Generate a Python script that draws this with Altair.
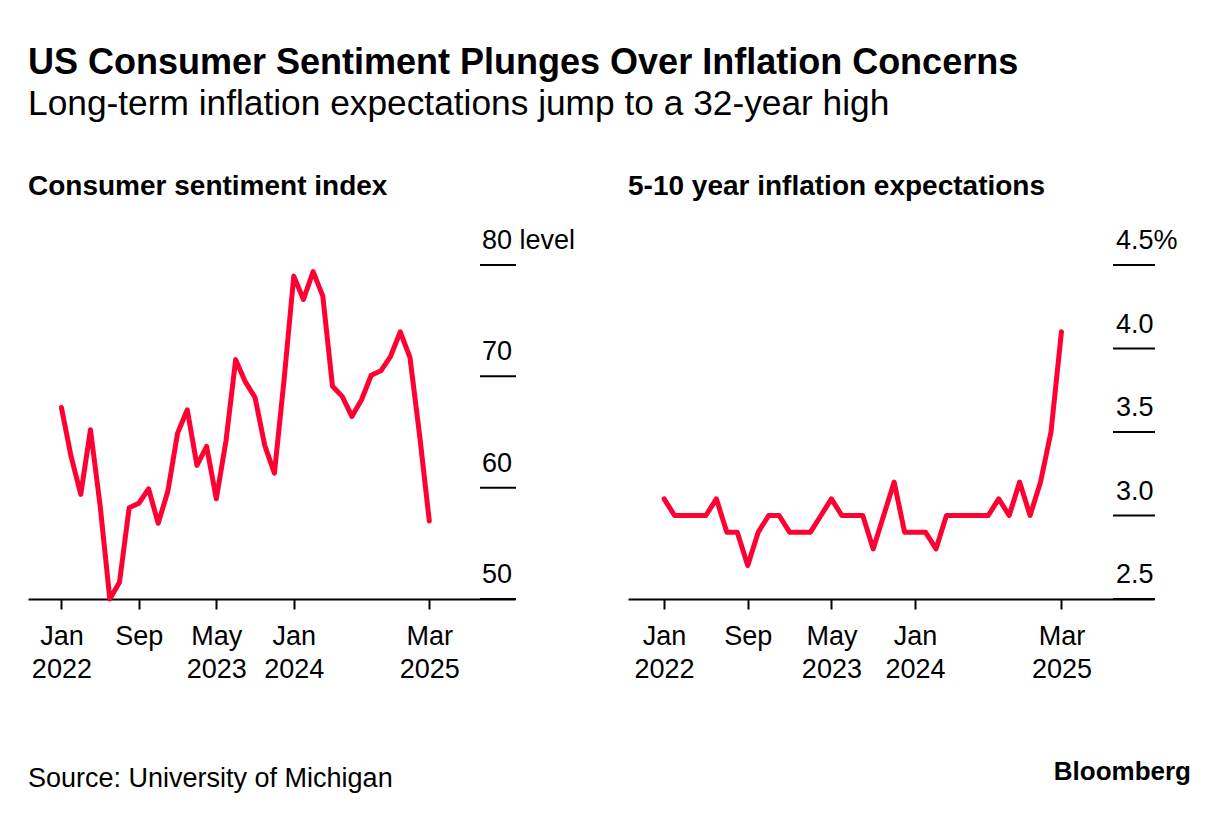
import altair as alt
import pandas as pd

TITLE = "US Consumer Sentiment Plunges Over Inflation Concerns"
SUBTITLE = "Long-term inflation expectations jump to a 32-year high"
LEFT_TITLE = "Consumer sentiment index"
RIGHT_TITLE = "5-10 year inflation expectations"
SOURCE = "Source: University of Michigan"
BRAND = "Bloomberg"

MONTHS = [
    "2022-01", "2022-02", "2022-03", "2022-04", "2022-05", "2022-06",
    "2022-07", "2022-08", "2022-09", "2022-10", "2022-11", "2022-12",
    "2023-01", "2023-02", "2023-03", "2023-04", "2023-05", "2023-06",
    "2023-07", "2023-08", "2023-09", "2023-10", "2023-11", "2023-12",
    "2024-01", "2024-02", "2024-03", "2024-04", "2024-05", "2024-06",
    "2024-07", "2024-08", "2024-09", "2024-10", "2024-11", "2024-12",
    "2025-01", "2025-02", "2025-03",
]
SENTIMENT = [
    67.2, 62.8, 59.4, 65.2, 58.4, 50.0, 51.5, 58.2, 58.6, 59.9, 56.8, 59.7,
    64.9, 67.0, 62.0, 63.7, 59.0, 64.2, 71.5, 69.5, 68.1, 63.8, 61.3, 69.7,
    79.0, 76.9, 79.4, 77.2, 69.1, 68.2, 66.4, 67.9, 70.1, 70.5, 71.8, 74.0,
    71.7, 64.7, 57.0,
]
EXPECT = [
    3.1, 3.0, 3.0, 3.0, 3.0, 3.1, 2.9, 2.9, 2.7, 2.9, 3.0, 3.0,
    2.9, 2.9, 2.9, 3.0, 3.1, 3.0, 3.0, 3.0, 2.8, 3.0, 3.2, 2.9,
    2.9, 2.9, 2.8, 3.0, 3.0, 3.0, 3.0, 3.0, 3.1, 3.0, 3.2, 3.0,
    3.2, 3.5, 4.1,
]

TICK_MONTHS = ["2022-01", "2022-09", "2023-05", "2024-01", "2025-03"]
TICK_LINE1 = ["Jan", "Sep", "May", "Jan", "Mar"]
TICK_LINE2 = ["2022", "", "2023", "2024", "2025"]

LEFT_YTICKS = [50, 60, 70, 80]
LEFT_YLABELS = ["50", "60", "70", "80 level"]
RIGHT_YTICKS = [2.5, 3.0, 3.5, 4.0, 4.5]
RIGHT_YLABELS = ["2.5", "3.0", "3.5", "4.0", "4.5%"]

RED = "#FF0033"
FONT = "Liberation Sans"
XDOM = [-3.45, 46.85]
H = 334

df = pd.DataFrame({
    "m": [MONTHS.index(m) for m in MONTHS],
    "sent": SENTIMENT,
    "exp": EXPECT,
})

tick_idx = [MONTHS.index(m) for m in TICK_MONTHS]
label_expr = "''"
for i, a, b in reversed(list(zip(tick_idx, TICK_LINE1, TICK_LINE2))):
    lines = f"['{a}', '{b}']" if b else f"['{a}']"
    label_expr = f"datum.value == {i} ? {lines} : ({label_expr})"


def text_layer(txt, x, y, size, bold=False, align="left"):
    return alt.Chart(pd.DataFrame({"t": [txt]})).mark_text(
        align=align, baseline="alphabetic", fontSize=size, font=FONT,
        fontWeight="bold" if bold else "normal", color="black",
    ).encode(x=alt.value(x), y=alt.value(y), text="t:N")


def panel(field, ydom, yticks, ylabels, width, tick_len, label_in, title, extra):
    xenc = alt.X(
        "m:Q",
        scale=alt.Scale(domain=XDOM, nice=False, zero=False),
        axis=alt.Axis(
            values=tick_idx, labelExpr=label_expr, title=None, grid=False,
            domainColor="black", domainWidth=2, tickColor="black", tickWidth=2,
            tickSize=10, labelFontSize=27, labelFont=FONT, labelColor="black",
            labelPadding=14, labelLineHeight=33, labelFlush=False,
            labelOverlap=False,
        ),
    )
    yscale = alt.Scale(domain=ydom, nice=False, zero=False)
    line = alt.Chart(df).mark_line(
        color=RED, strokeWidth=5, strokeJoin="round", strokeCap="round"
    ).encode(x=xenc, y=alt.Y(f"{field}:Q", scale=yscale, axis=None))
    tdf = pd.DataFrame({"v": yticks, "lab": ylabels})
    rules = alt.Chart(tdf).mark_rule(color="black", strokeWidth=2).encode(
        y=alt.Y("v:Q", scale=yscale, axis=None),
        x=alt.value(width - tick_len), x2=alt.value(width + 1),
    )
    labels = alt.Chart(tdf).mark_text(
        align="left", baseline="alphabetic", dy=-16, fontSize=27, font=FONT,
        color="black",
    ).encode(
        y=alt.Y("v:Q", scale=yscale, axis=None),
        x=alt.value(width - label_in), text="lab:N",
    )
    ptitle = text_layer(title, 0, -70, 28, bold=True)
    return alt.layer(line, rules, labels, ptitle, *extra).properties(
        width=width, height=H
    )


left = panel(
    "sent", [50, 80], LEFT_YTICKS, LEFT_YLABELS, 487, 35, 33, LEFT_TITLE,
    [
        text_layer(TITLE, 0, -191.5, 36, bold=True),
        text_layer(SUBTITLE, 0, -150, 35.3),
        text_layer(SOURCE, 0, 522, 27),
    ],
)
right = panel(
    "exp", [2.5, 4.5], RIGHT_YTICKS, RIGHT_YLABELS, 526, 41, 38, RIGHT_TITLE,
    [text_layer(BRAND, 563, 515, 26, bold=True, align="right")],
)

chart = alt.hconcat(left, right, spacing=113, bounds="flush").properties(
    padding={"left": 20, "top": 36, "right": 10, "bottom": 10},
    background="white",
).configure_view(stroke=None)

chart.save("out.html", embed_options={"renderer": "svg", "actions": False})
